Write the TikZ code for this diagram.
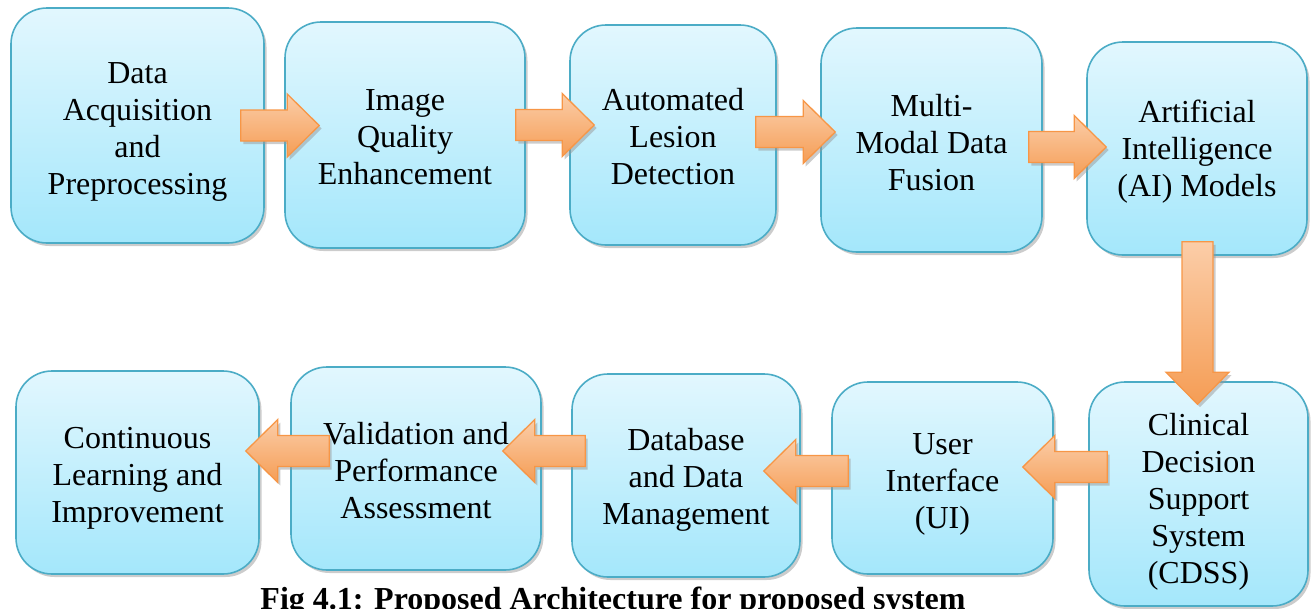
\documentclass[tikz,border=0pt]{standalone}
\usepackage{fontspec}
\setmainfont{Liberation Serif}
\usetikzlibrary{calc,shadows}
\definecolor{boxtop}{HTML}{E2F7FE}
\definecolor{boxbot}{HTML}{A4E7FB}
\definecolor{boxline}{HTML}{4BACC6}
\definecolor{arrtop}{HTML}{FBCDA8}
\definecolor{arrbot}{HTML}{F59D55}
\definecolor{arrline}{HTML}{F79646}

\begin{document}
\begin{tikzpicture}[x=1pt,y=1pt,
    stage/.style={draw=boxline, line width=1.6pt, rounded corners=36pt, top color=boxtop, bottom color=boxbot,
      text width=200pt, align=flush center, inner sep=0pt, font=\fontsize{32}{37}\selectfont,
      execute at begin node={\rule{0pt}{#1}},
      drop shadow={shadow xshift=2.5pt, shadow yshift=-3pt, fill=black!40}},
    stage/.default=22pt,
    flow/.style={draw=arrline, line width=1.3pt, top color=arrtop, bottom color=arrbot,
      drop shadow={shadow xshift=2.5pt, shadow yshift=-3pt, fill=black!40},
      to path={let \p1=(\tikztostart), \p2=(\tikztotarget), \p3=($(\p2)!32pt!(\p1)$) in
        ($(\p1)!15.5pt!90:(\p2)$) -- ($(\p3)!15.5pt!90:(\p2)$) -- ($(\p3)!31.5pt!90:(\p2)$) -- (\p2)
        -- ($(\p3)!31.5pt!-90:(\p2)$) -- ($(\p3)!15.5pt!-90:(\p2)$) -- ($(\p1)!15.5pt!-90:(\p2)$) -- cycle}}]
    \useasboundingbox (0,0) rectangle (1311,-608);

    \node[stage=33.7pt, minimum width=253pt, minimum height=235pt] (acq) at (137.5,-125.5) {Data\\Acquisition\\and\\Preprocessing};
    \node[stage=24.7pt, minimum width=240pt, minimum height=226pt] (iqe) at (405,-135) {Image\\Quality\\Enhancement};
    \node[stage=24.7pt, minimum width=206pt, minimum height=220pt] (ald) at (673,-135) {Automated\\Lesion\\Detection};
    \node[stage=26.7pt, minimum width=221pt, minimum height=224pt] (mmf) at (931.5,-140) {Multi-\\Modal Data\\Fusion};
    \node[stage=29.7pt, minimum width=220pt, minimum height=213pt] (aim) at (1197,-148.5) {Artificial\\Intelligence\\(AI) Models};
    \node[stage=37.7pt, minimum width=219pt, minimum height=224pt] (cds) at (1198.5,-494) {Clinical\\Decision\\Support\\System\\(CDSS)};
    \node[stage=33.7pt, minimum width=221pt, minimum height=192pt] (uif) at (942.5,-478) {User\\Interface\\(UI)};
    \node[stage=31.7pt, minimum width=228pt, minimum height=203pt] (dbm) at (686,-475.5) {Database\\and Data\\Management};
    \node[stage=26.7pt, minimum width=250pt, minimum height=203pt] (vpa) at (416,-468.5) {Validation and\\Performance\\Assessment};
    \node[stage=33.7pt, minimum width=243pt, minimum height=203pt] (cli) at (137.5,-472.5) {Continuous\\Learning and\\Improvement};

    \draw[flow] ($(acq.east)+(-24pt,0pt)$) to ($(acq.east -| iqe.west)+(35pt,0pt)$);
    \draw[flow] ($(iqe.east)+(-10pt,10pt)$) to ($(iqe.east -| ald.west)+(25pt,10pt)$);
    \draw[flow] ($(ald.east)+(-21pt,3pt)$) to ($(ald.east -| mmf.west)+(15pt,3pt)$);
    \draw[flow] ($(mmf.east)+(-14pt,-7pt)$) to ($(mmf.east -| aim.west)+(20pt,-7pt)$);
    \draw[flow] ($(aim.south)+(0.5pt,14pt)$) to ($(aim.south |- cds.north)+(0.5pt,-23pt)$);
    \draw[flow] ($(cds.west)+(19pt,27pt)$) to ($(cds.west -| uif.east)+(-31pt,27pt)$);
    \draw[flow] ($(uif.west)+(17pt,7pt)$) to ($(uif.west -| dbm.east)+(-37pt,7pt)$);
    \draw[flow] ($(dbm.west)+(14pt,24.5pt)$) to ($(dbm.west -| vpa.east)+(-39pt,24.5pt)$);
    \draw[flow] ($(vpa.west)+(39pt,17.5pt)$) to ($(vpa.west -| cli.east)+(-14pt,17.5pt)$);

    \node[font=\bfseries\fontsize{32}{37}\selectfont, anchor=base] (cap) at (613,-609.5) {Fig 4.1: Proposed Architecture for proposed system};
\end{tikzpicture}
\end{document}
